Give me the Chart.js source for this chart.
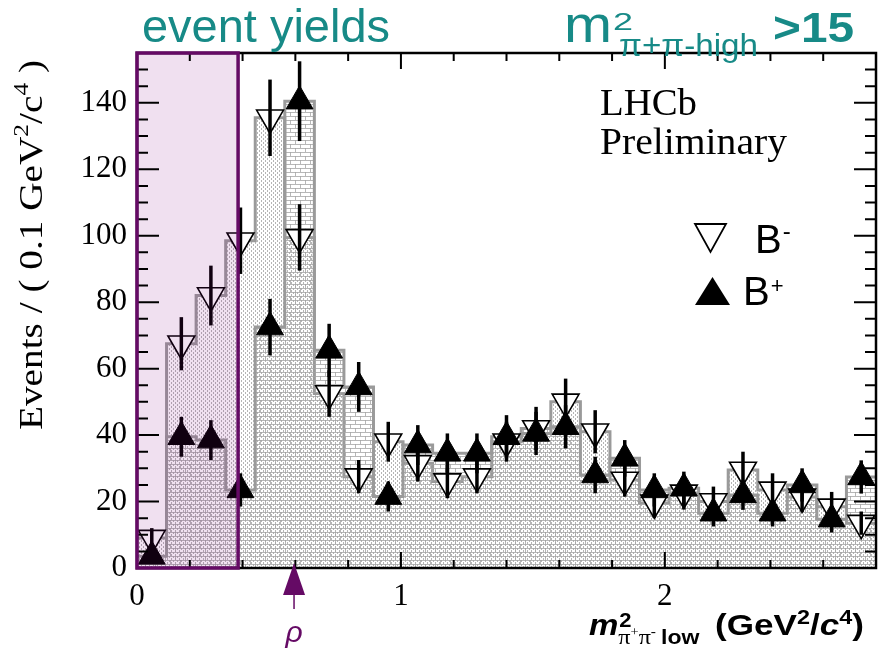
<!DOCTYPE html>
<html>
<head>
<meta charset="utf-8">
<script src="https://cdn.jsdelivr.net/npm/chart.js@4.4.1/dist/chart.umd.min.js"></script>
<style>
html, body { margin: 0; padding: 0; background: #fff; }
</style>
</head>
<body>
<canvas id="yieldChart" width="878" height="656"></canvas>
<script>

// bins of m^2(pi+pi-) low, GeV^2/c^4
var binCenters = [0.056, 0.168, 0.280, 0.392, 0.504, 0.616, 0.728, 0.840, 0.952, 1.064,
                  1.176, 1.288, 1.400, 1.512, 1.624, 1.736, 1.848, 1.960, 2.072, 2.184,
                  2.296, 2.408, 2.520, 2.632, 2.744];
var binWidth = 0.112;

var bMinusYield = [9, 67.5, 82, 98.5, 135.5, 99.5, 52.5, 27.5, 38, 31.5,
                   26, 27.5, 38, 42, 50, 41, 26.5, 19.6, 22.6, 20,
                   29.5, 23.5, 21.4, 18.4, 13.5];
var bMinusErr   = [3, 8, 9, 10, 11.5, 10, 7, 5, 6, 5.5,
                   5, 5, 6, 6.5, 7, 6.5, 5, 4.5, 5, 4.5,
                   5.5, 5, 4.5, 4.5, 3.5];

var bPlusYield  = [3.5, 39.5, 38.5, 23.5, 72.5, 140.5, 65.5, 54.5, 21.5, 37,
                   34.5, 34.5, 39.5, 40.5, 42.5, 28, 33, 23.5, 24, 16.5,
                   22, 16.5, 25, 14.7, 27.4];
var bPlusErr    = [2, 6, 6, 5, 8.5, 12, 8, 7.5, 4.5, 6,
                   6, 6, 6.5, 6.5, 6.5, 5.5, 5.5, 5, 5, 4,
                   4.5, 4, 5, 4, 5];

var yTickValues = [0, 20, 40, 60, 80, 100, 120, 140];
var xTickLabels = [0, 1, 2];
var yieldWindow = [0, 0.383];
var rhoMassSq = 0.595;

var teal = '#178a87';
var purple = '#650a65';

function stepPoints(vals) {
    var pts = binCenters.map(function(c, i) { return { x: c - binWidth / 2, y: vals[i] }; });
    var n = vals.length - 1;
    pts.push({ x: binCenters[n] + binWidth / 2, y: vals[n] });
    return pts;
}

function markerPoints(vals) {
    return binCenters.map(function(c, i) { return { x: c, y: vals[i] }; });
}

function makePattern(kind) {
    var c = document.createElement('canvas');
    var g = c.getContext('2d');
    if (kind == 'dots') {
        c.width = 4; c.height = 4;
        g.fillStyle = 'rgba(150,150,150,0.7)';
        g.fillRect(1, 0, 1, 2);
        g.fillRect(3, 2, 1, 2);
    } else {
        c.width = 10; c.height = 8;
        g.fillStyle = 'rgba(165,165,165,0.8)';
        g.fillRect(0, 0, 10, 1);
        g.fillRect(0, 4, 10, 1);
        g.fillRect(0, 0, 1, 4);
        g.fillRect(5, 4, 1, 4);
    }
    return document.createElement('canvas').getContext('2d').createPattern(c, 'repeat');
}

// draw a text scaled to a given width
function fitText(ctx, t, x, y, font, color, w) {
    ctx.save();
    ctx.font = font;
    ctx.fillStyle = color;
    ctx.textBaseline = 'alphabetic';
    ctx.textAlign = 'left';
    var m = ctx.measureText(t).width;
    ctx.translate(x, y);
    if (w) ctx.scale(w / m, 1);
    ctx.fillText(t, 0, 0);
    ctx.restore();
    return w ? w : m;
}

// runs of text with own font and vertical shift, sx = horizontal stretch
function drawRuns(ctx, x, y, runs, color, sx) {
    sx = sx || 1;
    ctx.save();
    ctx.fillStyle = color;
    ctx.textBaseline = 'alphabetic';
    ctx.textAlign = 'left';
    ctx.translate(x, y);
    ctx.scale(sx, 1);
    var cx = 0;
    runs.forEach(function(r) {
        ctx.font = r.font;
        ctx.fillText(r.t, cx + (r.dx || 0), r.dy || 0);
        cx += ctx.measureText(r.t).width + (r.dx || 0);
    });
    ctx.restore();
    return x + cx * sx;
}

var decorPlugin = {
    id: 'decor',
    afterDraw: function(chart) {
        var ctx = chart.ctx;
        var xs = chart.scales.x, ys = chart.scales.y;
        var a = chart.chartArea;

        // error bars
        ctx.save();
        ctx.beginPath();
        ctx.rect(a.left, a.top, a.right - a.left, a.bottom - a.top);
        ctx.clip();
        ctx.strokeStyle = '#000';
        ctx.lineWidth = 3.5;
        [[bMinusYield, bMinusErr], [bPlusYield, bPlusErr]].forEach(function(s) {
            s[0].forEach(function(v, i) {
                var px = xs.getPixelForValue(binCenters[i]);
                ctx.beginPath();
                ctx.moveTo(px, ys.getPixelForValue(v + s[1][i]));
                ctx.lineTo(px, ys.getPixelForValue(Math.max(0, v - s[1][i])));
                ctx.stroke();
            });
        });
        ctx.restore();

        // event yield window
        var x0 = xs.getPixelForValue(yieldWindow[0]), x1 = xs.getPixelForValue(yieldWindow[1]);
        ctx.save();
        ctx.fillStyle = 'rgba(128,0,128,0.12)';
        ctx.fillRect(x0, a.top, x1 - x0, a.bottom - a.top);
        ctx.restore();

        // frame
        ctx.save();
        ctx.strokeStyle = '#000';
        ctx.lineWidth = 2.5;
        ctx.strokeRect(a.left, a.top, a.right - a.left, a.bottom - a.top);

        // inward ticks
        ctx.lineWidth = 2;
        for (var v = 0; v <= 155; v += 5) {
            var py = ys.getPixelForValue(v);
            var len = (v % 20 == 0) ? 22 : 11;
            ctx.beginPath();
            ctx.moveTo(a.left, py); ctx.lineTo(a.left + len, py);
            ctx.moveTo(a.right, py); ctx.lineTo(a.right - len, py);
            ctx.stroke();
        }
        for (var k = 0; k <= 14; k++) {
            var px = xs.getPixelForValue(k * 0.2);
            var l2 = (k % 5 == 0) ? 16 : 8;
            ctx.beginPath();
            ctx.moveTo(px, a.bottom); ctx.lineTo(px, a.bottom - l2);
            ctx.moveTo(px, a.top); ctx.lineTo(px, a.top + l2);
            ctx.stroke();
        }
        ctx.restore();

        ctx.save();
        ctx.strokeStyle = purple;
        ctx.lineWidth = 3.5;
        ctx.strokeRect(x0, a.top, x1 - x0, a.bottom - a.top);
        ctx.restore();

        // rho arrow
        var rx = xs.getPixelForValue(rhoMassSq);
        ctx.save();
        ctx.fillStyle = purple;
        ctx.strokeStyle = purple;
        ctx.lineWidth = 1.5;
        ctx.beginPath();
        ctx.moveTo(rx, a.bottom - 5);
        ctx.lineTo(rx - 11, a.bottom + 27);
        ctx.lineTo(rx + 11, a.bottom + 27);
        ctx.closePath();
        ctx.fill();
        ctx.beginPath();
        ctx.moveTo(rx, a.bottom + 27); ctx.lineTo(rx, a.bottom + 41);
        ctx.stroke();
        ctx.font = 'italic 30px "Liberation Sans", Arial, sans-serif';
        ctx.textAlign = 'center';
        ctx.textBaseline = 'alphabetic';
        ctx.fillText('\u03C1', rx, a.bottom + 74);
        ctx.restore();

        // LHCb label
        var serif = '"Liberation Serif", "Times New Roman", serif';
        fitText(ctx, 'LHCb', 600, 115, '37px ' + serif, '#000', 97);
        fitText(ctx, 'Preliminary', 600, 154, '37px ' + serif, '#000', 187);

        // legend
        ctx.save();
        ctx.strokeStyle = '#000';
        ctx.lineWidth = 1.8;
        ctx.beginPath();
        ctx.moveTo(695, 224); ctx.lineTo(726, 224); ctx.lineTo(710.5, 252);
        ctx.closePath();
        ctx.stroke();
        ctx.fillStyle = '#000';
        ctx.beginPath();
        ctx.moveTo(695, 305); ctx.lineTo(730, 305); ctx.lineTo(712.5, 277);
        ctx.closePath();
        ctx.fill();
        ctx.restore();
        var sans = '"Liberation Sans", Arial, sans-serif';
        drawRuns(ctx, 755, 253, [{ t: 'B', font: '40px ' + sans }, { t: '-', font: '24px ' + sans, dy: -14, dx: 1 }], '#000');
        drawRuns(ctx, 743, 305, [{ t: 'B', font: '40px ' + sans }, { t: '+', font: '22px ' + sans, dy: -12, dx: 1 }], '#000');

        // headline texts
        fitText(ctx, 'event yields', 142, 42, '47px ' + sans, teal, 248);
        fitText(ctx, 'm', 564, 42, '52px ' + sans, teal, 48);
        fitText(ctx, '2', 613, 30, '24px ' + sans, teal, 20);
        fitText(ctx, '\u03C0+\u03C0-high', 619, 56, '31px ' + sans, teal, 139);
        fitText(ctx, '>15', 773, 42, 'bold 43px ' + sans, teal, 81);

        // x axis title
        var xe = drawRuns(ctx, 589, 635, [{ t: 'm', font: 'italic bold 30px ' + sans }], '#000', 1.1);
        drawRuns(ctx, xe + 1, 627, [{ t: '2', font: 'bold 20px ' + sans }], '#000', 1.1);
        var xs2 = drawRuns(ctx, xe, 644, [{ t: '\u03C0', font: '22px ' + serif }, { t: '+', font: '13px ' + serif, dy: -8 },
                                       { t: '\u03C0', font: '22px ' + serif }, { t: '-', font: '14px ' + serif, dy: -8 }], '#000', 1.1);
        drawRuns(ctx, xs2 + 5, 644, [{ t: 'low', font: 'bold 21px ' + sans }], '#000', 1.1);
        drawRuns(ctx, 715, 635, [
            { t: '(GeV', font: 'bold 30px ' + sans },
            { t: '2', font: 'bold 20px ' + sans, dy: -11 },
            { t: '/', font: 'bold 30px ' + sans },
            { t: 'c', font: 'italic bold 30px ' + sans },
            { t: '4', font: 'bold 20px ' + sans, dy: -11 },
            { t: ')', font: 'bold 30px ' + sans }
        ], '#000', 1.17);

        // y axis title
        ctx.save();
        ctx.translate(42, 245);
        ctx.rotate(-Math.PI / 2);
        var parts = [['Events / ( 0.1 GeV', 34, 0], ['2', 22, -14], ['/c', 34, 0], ['4', 22, -14], [' )', 34, 0]];
        var tot = 0;
        parts.forEach(function(p) { ctx.font = p[1] + 'px ' + serif; tot += ctx.measureText(p[0]).width; });
        ctx.scale(370 / tot, 1);
        var cx = -tot / 2;
        ctx.fillStyle = '#000';
        parts.forEach(function(p) {
            ctx.font = p[1] + 'px ' + serif;
            ctx.fillText(p[0], cx, p[2]);
            cx += ctx.measureText(p[0]).width;
        });
        ctx.restore();
    }
};

var serifTick = { family: '"Liberation Serif", "Times New Roman", serif', size: 31 };

var graphConfig = {
    type: 'scatter',
    data: {
        datasets: [
            {
                type: 'line',
                label: 'B- fit',
                data: stepPoints(bMinusYield),
                stepped: 'before',
                showLine: true,
                pointRadius: 0,
                borderColor: '#9a9a9a',
                borderWidth: 3,
                backgroundColor: makePattern('dots'),
                fill: 'origin',
                order: 4
            },
            {
                type: 'line',
                label: 'B+ fit',
                data: stepPoints(bPlusYield),
                stepped: 'before',
                showLine: true,
                pointRadius: 0,
                borderColor: '#9a9a9a',
                borderWidth: 3,
                backgroundColor: makePattern('brick'),
                fill: 'origin',
                order: 3
            },
            {
                label: 'B-',
                data: markerPoints(bMinusYield),
                pointStyle: 'triangle',
                rotation: 180,
                radius: 15.5,
                borderColor: '#000',
                borderWidth: 1.6,
                backgroundColor: '#fff',
                clip: false,
                order: 2
            },
            {
                label: 'B+',
                data: markerPoints(bPlusYield),
                pointStyle: 'triangle',
                radius: 15.5,
                borderColor: '#000',
                borderWidth: 1,
                backgroundColor: '#000',
                clip: false,
                order: 1
            }
        ]
    },
    options: {
        responsive: false,
        animation: false,
        events: [],
        layout: { autoPadding: false, padding: { top: 53, right: 2, left: 0, bottom: 0 } },
        plugins: { legend: { display: false }, tooltip: { enabled: false } },
        scales: {
            x: {
                type: 'linear',
                min: 0,
                max: 2.8,
                grid: { display: false, drawTicks: false },
                border: { display: false },
                ticks: {
                    stepSize: 0.2,
                    autoSkip: false,
                    maxRotation: 0,
                    padding: 10,
                    color: '#000',
                    font: serifTick,
                    callback: function(v) {
                        var r = Math.round(v);
                        return (Math.abs(v - r) < 1e-6 && xTickLabels.indexOf(r) >= 0) ? String(r) : '';
                    }
                },
                afterFit: function(scale) {
                    scale.height = 88;
                    scale.paddingLeft = 0;
                    scale.paddingRight = 0;
                }
            },
            y: {
                min: 0,
                max: 155,
                grid: { display: false, drawTicks: false },
                border: { display: false },
                ticks: {
                    stepSize: 20,
                    includeBounds: false,
                    padding: 10,
                    color: '#000',
                    font: serifTick,
                    callback: function(v) { return yTickValues.indexOf(v) >= 0 ? String(v) : ''; }
                },
                afterFit: function(scale) {
                    scale.width = 137;
                    scale.paddingTop = 0;
                    scale.paddingBottom = 0;
                }
            }
        }
    },
    plugins: [decorPlugin]
};

var myChart = new Chart(document.getElementById('yieldChart').getContext('2d'), graphConfig);
</script>
</body>
</html>
